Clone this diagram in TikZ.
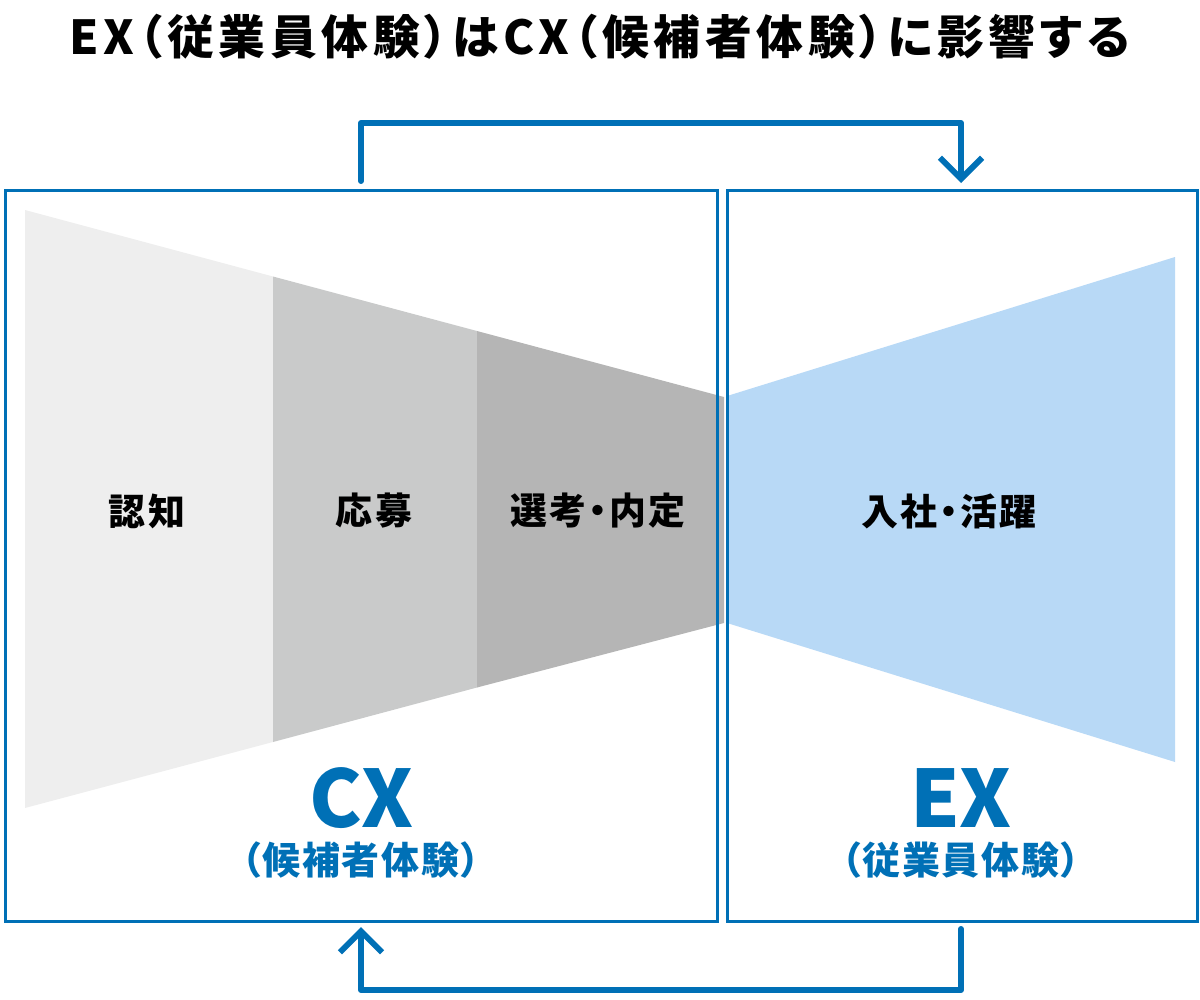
\documentclass[tikz,border=0pt]{standalone}
\usepackage{fontspec}
\setmainfont{Noto Sans CJK JP}[RawFeature=+palt]
\usetikzlibrary{arrows.meta}
\definecolor{exblue}{HTML}{0070B6}
\definecolor{skyblue}{HTML}{B8D9F6}
\definecolor{grayA}{HTML}{EEEEEE}
\definecolor{grayB}{HTML}{C9CACA}
\definecolor{grayC}{HTML}{B5B5B5}

\begin{document}
\begin{tikzpicture}[x=0.01cm,y=-0.01cm,
		frame/.style={draw=exblue,line width=1pt,inner sep=0pt,anchor=north west},
		loop/.style={draw=exblue,line width=1.7pt,line join=round,line cap=round,-{Straight Barb[length=6pt,width=12pt]}},
		stage/.style={font=\bfseries\fontsize{10.5}{12}\selectfont\addfontfeatures{LetterSpace=6}},
		big/.style={text=exblue,font=\bfseries\fontsize{22.5}{24}\selectfont},
		sub/.style={text=exblue,font=\bfseries\fontsize{10.8}{12}\selectfont\addfontfeatures{LetterSpace=5}}]
		\useasboundingbox (0,0) rectangle (1200,1000);
		
		\node(title) at (600,37)[font=\bfseries\fontsize{13.3}{15}\selectfont\addfontfeatures{LetterSpace=10}]{EX（従業員体験）はCX（候補者体験）に影響する};
		
		\fill[grayA] (25,210) -- (273,276.5) -- (273,742) -- (25,808) -- cycle;
		\fill[grayB] (273,276.5) -- (477,331) -- (477,687.5) -- (273,742) -- cycle;
		\fill[grayC] (477,331) -- (724,397) -- (724,623) -- (477,687.5) -- cycle;
		\fill[skyblue] (727,396) -- (1175,257) -- (1175,762) -- (727,623) -- cycle;
		
		\node(cx) at (3.5,188.5)[frame,minimum width=7.12cm,minimum height=7.31cm]{};
		\node(ex) at (725.5,188.5)[frame,minimum width=4.70cm,minimum height=7.31cm]{};
		
		\node(1) at (147,511)[stage]{認知};
		\node(2) at (374,511)[stage]{応募};
		\node(3) at (598,511)[stage]{選考・内定};
		\node(4) at (949,511)[stage]{入社・活躍};
		
		\node(cxname) at (361,798)[big]{CX};
		\node(cxsub) at (361,860)[sub]{（候補者体験）};
		\node(exname) at (961,798)[big]{EX};
		\node(exsub) at (961,860)[sub]{（従業員体験）};
		
		\coordinate(cxtop) at (361,181);
		\coordinate(extop) at (961,183);
		\coordinate(exbot) at (961,929);
		\coordinate(cxbot) at (361,927);
		\draw[loop] (cxtop) -- ++(0,-58) -| (extop);
		\draw[loop] (exbot) -- ++(0,61) -| (cxbot);
	\end{tikzpicture}
\end{document}
